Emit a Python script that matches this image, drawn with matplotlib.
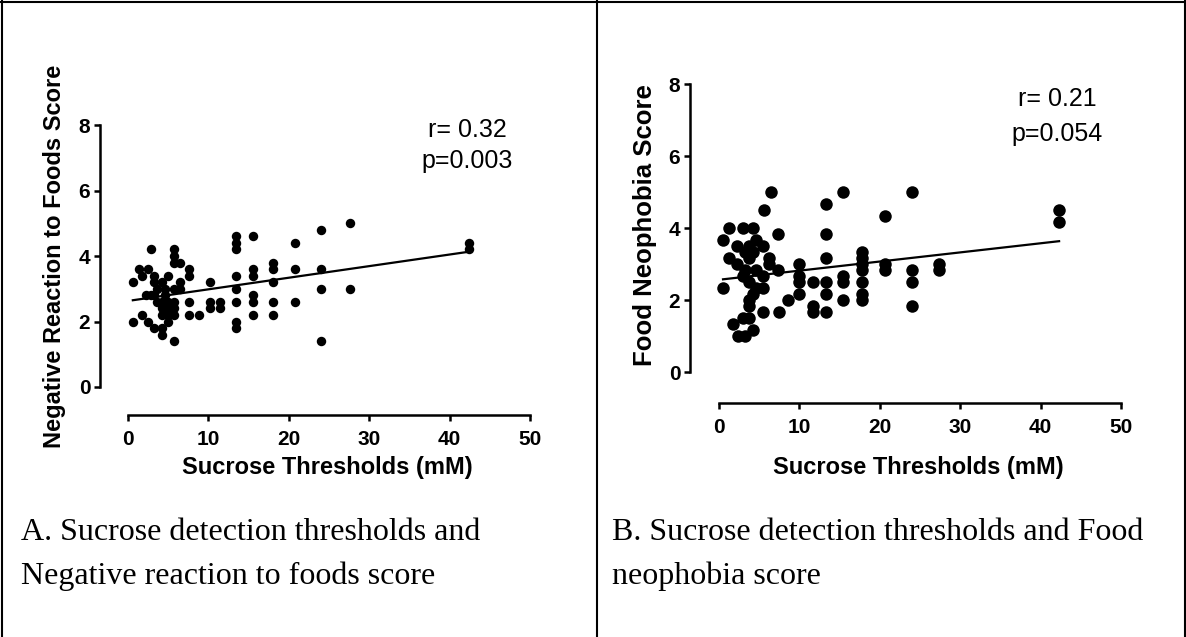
import numpy as np
import matplotlib
matplotlib.use("Agg")
import matplotlib.pyplot as plt
from matplotlib.lines import Line2D

SANS = ["Liberation Sans", "DejaVu Sans"]
SERIF = ["Liberation Serif", "DejaVu Serif"]
plt.rcParams["font.family"] = SANS

# ---------------- data ----------------
x_ticks = [0, 10, 20, 30, 40, 50]
y_ticks = [0, 2, 4, 6, 8]

# Panel A: sucrose thresholds vs negative reaction to foods score
xA = [0.6, 0.6, 1.4, 1.8, 1.8, 2.5, 2.5, 2.8, 2.8, 2.2,
      3.2, 3.2, 3.2, 3.2, 3.6, 3.6,
      4.2, 4.2, 4.2, 4.2, 4.2, 4.2, 4.6, 4.6,
      5.0, 5.0, 5.0, 5.0, 5.0,
      5.7, 5.7, 5.7, 5.7, 5.7, 5.7, 5.7, 5.7,
      6.5, 6.5, 6.5, 7.6, 7.6, 7.6, 7.6, 8.8,
      10.2, 10.2, 10.2, 11.5, 11.5,
      13.45, 13.45, 13.45, 13.45, 13.45, 13.45, 13.45, 13.45,
      15.6, 15.6, 15.6, 15.6, 15.6, 15.6,
      18.0, 18.0, 18.0, 18.0, 18.0,
      20.8, 20.8, 20.8, 24.0, 24.0, 24.0, 24.0,
      27.6, 27.6, 42.4, 42.4]
yA = [3.2, 2.0, 3.6, 3.4, 2.2, 3.6, 2.0, 4.2, 2.8, 2.8,
      3.4, 3.2, 2.8, 1.8, 3.0, 2.6,
      3.2, 2.6, 2.4, 2.2, 1.8, 1.6, 3.0, 2.8,
      3.4, 2.6, 2.4, 2.2, 2.0,
      4.2, 4.0, 3.8, 3.0, 2.6, 2.4, 2.2, 1.4,
      3.8, 3.2, 3.0, 3.6, 3.4, 2.6, 2.2, 2.2,
      3.2, 2.6, 2.4, 2.6, 2.4,
      4.6, 4.4, 4.2, 3.4, 3.0, 2.6, 2.0, 1.8,
      4.6, 3.6, 3.4, 2.8, 2.6, 2.2,
      3.8, 3.6, 3.2, 2.6, 2.2,
      4.4, 3.6, 2.6, 4.8, 3.6, 3.0, 1.4,
      5.0, 3.0, 4.4, 4.2]

# Panel B: sucrose thresholds vs food neophobia score
xB = [0.5, 0.5, 1.3, 1.3, 1.7, 2.2, 2.2, 2.4,
      3.0, 3.0, 3.0, 3.2, 3.2, 3.2,
      3.7, 3.7, 3.7, 3.7, 3.7, 3.7,
      4.2, 4.2, 4.2, 4.2, 4.6, 4.6, 4.6,
      5.5, 5.5, 5.5, 5.5, 5.6, 6.2, 6.2, 6.5,
      7.4, 7.4, 7.5, 8.6,
      10.0, 10.0, 10.0, 10.0, 11.7, 11.7, 11.7,
      13.3, 13.3, 13.3, 13.3, 13.3, 13.3,
      15.4, 15.4, 15.4, 15.4,
      17.8, 17.8, 17.8, 17.8, 17.8, 17.8, 17.8,
      20.7, 20.7, 20.7, 24.0, 24.0, 24.0, 24.0,
      27.4, 27.4, 42.3, 42.3]
yB = [3.67, 2.33, 4.0, 3.17, 1.33, 3.5, 3.0, 1.0,
      4.0, 2.67, 1.5, 3.33, 2.83, 1.0,
      3.5, 3.17, 2.5, 2.0, 1.83, 1.5,
      4.0, 3.33, 2.17, 1.17, 3.67, 2.83, 2.33,
      3.5, 2.67, 2.33, 1.67, 4.5, 3.17, 3.0, 5.0,
      3.83, 2.83, 1.67, 2.0,
      3.0, 2.67, 2.5, 2.17, 2.5, 1.83, 1.67,
      4.67, 3.83, 3.17, 2.5, 2.17, 1.67,
      5.0, 2.67, 2.5, 2.0,
      3.33, 3.17, 3.0, 2.83, 2.5, 2.17, 2.0,
      4.33, 3.0, 2.83, 5.0, 2.83, 2.5, 1.83,
      3.0, 2.83, 4.5, 4.17]

x_label = "Sucrose Thresholds (mM)"
yA_label = "Negative Reaction to Foods Score"
yB_label = "Food Neophobia Score"
statsA = ["r= 0.32", "p=0.003"]
statsB = ["r= 0.21", "p=0.054"]
captionA = ["A. Sucrose detection thresholds and", "Negative reaction to foods score"]
captionB = ["B. Sucrose detection thresholds and Food", "neophobia score"]

# ---------------- figure ----------------
W, H = 1186, 637
DPI = 100
fig = plt.figure(figsize=(W / DPI, H / DPI), dpi=DPI)

def px2pt(p):
    return p * 72.0 / DPI

TICK_SIZE = 15

def make_panel(rect_px, x, y, ylab, ylab_size, stats, stats_pos, msize,
               left_off, bottom_off, xlab_pos, ylab_pos):
    l, r, y0, y8 = rect_px
    ax = fig.add_axes([l / W, 1 - y0 / H, (r - l) / W, (y0 - y8) / H])
    ax.set_xlim(0, 50)
    ax.set_ylim(0, 8)
    x = np.asarray(x); y = np.asarray(y)
    ax.plot(x, y, "o", color="black", markersize=msize, markeredgewidth=0,
            clip_on=False, zorder=3)
    coef = np.polyfit(x, y, 1)
    xs = np.array([x.min(), x.max()])
    ax.plot(xs, np.polyval(coef, xs), color="black", lw=1.6, zorder=4)
    for s in ("top", "right"):
        ax.spines[s].set_visible(False)
    ax.spines["left"].set_position(("outward", px2pt(left_off)))
    ax.spines["bottom"].set_position(("outward", px2pt(bottom_off)))
    ax.spines["left"].set_bounds(0, 8)
    ax.spines["bottom"].set_bounds(0, 50)
    for s in ("left", "bottom"):
        ax.spines[s].set_linewidth(1.8)
    ax.set_xticks(x_ticks)
    ax.set_yticks(y_ticks)
    ax.tick_params(axis="both", direction="out", length=4, width=1.8,
                   labelsize=TICK_SIZE)
    ax.tick_params(axis="x", pad=7)
    ax.tick_params(axis="y", pad=3)
    ax.set_xlabel(x_label, fontsize=17, fontweight="bold")
    ax.set_ylabel(ylab, fontsize=ylab_size, fontweight="bold")
    ax.xaxis.label.set_va("center")
    ax.yaxis.label.set_va("center")
    ax.xaxis.set_label_coords(*xlab_pos)
    ax.yaxis.set_label_coords(*ylab_pos)
    sx, sy1, sy2 = stats_pos
    ax.text(sx, sy1, stats[0], transform=ax.transAxes, ha="center",
            va="baseline", fontsize=18)
    ax.text(sx, sy2, stats[1], transform=ax.transAxes, ha="center",
            va="baseline", fontsize=18)
    return ax

axA = make_panel((128, 530, 387, 125), xA, yA, yA_label, 17, statsA,
                 (0.8445, 0.954, 0.836), 6.8, 28, 28,
                 (0.496, -0.309), (-0.1816, 0.5))
axB = make_panel((719, 1121, 372, 84), xB, yB, yB_label, 18.5, statsB,
                 (0.841, 0.925, 0.802), 9.0, 29, 31,
                 (0.496, -0.333), (-0.184, 0.51))

# make every tick label bold
for ax in (axA, axB):
    for lab in ax.get_xticklabels() + ax.get_yticklabels():
        lab.set_fontweight("bold")
        lab.set_fontsize(TICK_SIZE)

# captions
for i, line in enumerate(captionA):
    fig.text(21 / W, 1 - (540 + 44 * i) / H, line, family=SERIF, fontsize=23,
             ha="left", va="baseline")
for i, line in enumerate(captionB):
    fig.text(612 / W, 1 - (540 + 44 * i) / H, line, family=SERIF, fontsize=23,
             ha="left", va="baseline")

# table borders
def fline(x0, y0, x1, y1):
    fig.add_artist(Line2D([x0 / W, x1 / W], [1 - y0 / H, 1 - y1 / H],
                          color="black", lw=1.5, transform=fig.transFigure))

fline(0, 1.5, W, 1.5)
fline(1.5, 0, 1.5, H)
fline(597, 0, 597, H)
fline(W - 1.5, 0, W - 1.5, H)

fig.savefig("out.png", dpi=DPI, facecolor="white")
